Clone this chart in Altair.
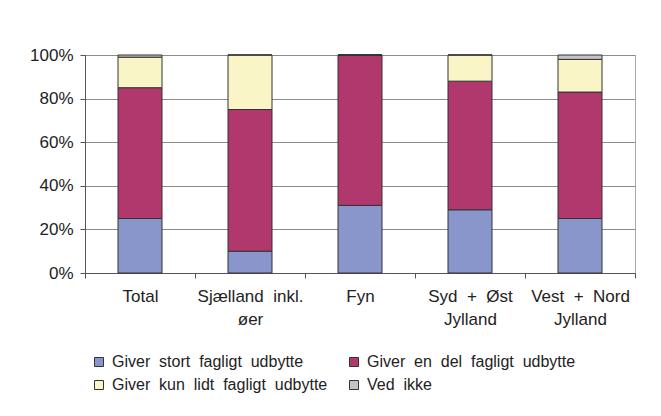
import altair as alt
import pandas as pd

S = " \u00a0"  # wide word spacing as in the reference
regions = ["Total", f"Sjælland{S}inkl.|øer", "Fyn", f"Syd{S}+{S}Øst|Jylland", f"Vest{S}+{S}Nord|Jylland"]
series = [f"Giver{S}stort{S}fagligt{S}udbytte", f"Giver{S}en{S}del{S}fagligt{S}udbytte",
          f"Giver{S}kun{S}lidt{S}fagligt{S}udbytte", f"Ved{S}ikke"]
stort = [25, 10, 31, 29, 25]
en_del = [60, 65, 69, 59, 58]
kun_lidt = [14, 25, 0, 12, 15]
ved_ikke = [1, 0, 0, 0, 2]
colors = ["#8896cc", "#b0386c", "#faf5c6", "#c4c4c4"]

rows = []
for vals, (i, s) in zip([stort, en_del, kun_lidt, ved_ikke], enumerate(series)):
    for r, v in zip(regions, vals):
        rows.append({"region": r, "serie": s, "idx": i, "value": v})
df = pd.DataFrame(rows)

# legend fills column by column: order so rows read stort/en del, kun lidt/ved ikke
legend_order = [series[0], series[2], series[1], series[3]]
legend_colors = [colors[0], colors[2], colors[1], colors[3]]

FONT = "Liberation Sans"

chart = alt.Chart(df).mark_bar(
    width={"band": 0.4}, stroke="#333333", strokeWidth=1
).encode(
    x=alt.X("region:N", sort=regions, title=None,
            scale=alt.Scale(paddingInner=0, paddingOuter=0),
            axis=alt.Axis(labelExpr="split(datum.label, '|')", labelAngle=0,
                          tickBand="extent", tickSize=5, tickColor="#555555",
                          domainColor="#555555", labelFontSize=17, labelColor="#222222",
                          labelFont=FONT, labelPadding=10, labelLineHeight=23,
                          labelBaseline="top")),
    y=alt.Y("value:Q", stack="zero", title=None,
            scale=alt.Scale(domain=[0, 100], nice=False),
            axis=alt.Axis(values=[0, 20, 40, 60, 80, 100],
                          labelExpr="datum.value + '%'", tickSize=5,
                          tickColor="#555555", domainColor="#555555",
                          gridColor="#8c8c8c", labelFontSize=17, labelColor="#222222",
                          labelFont=FONT, labelPadding=7)),
    color=alt.Color("serie:N",
                    scale=alt.Scale(domain=legend_order, range=legend_colors),
                    legend=alt.Legend(title=None, orient="none", legendX=6, legendY=299,
                                      columns=2, columnPadding=18, rowPadding=7,
                                      symbolType="square", symbolSize=81,
                                      symbolStrokeColor="#333333", symbolStrokeWidth=1,
                                      symbolOpacity=1, labelLimit=400,
                                      labelFontSize=16, labelFont=FONT,
                                      labelColor="#222222", labelOffset=5)),
    order=alt.Order("idx:Q", sort="ascending"),
).properties(
    width=550, height=218,
    autosize=alt.AutoSizeParams(type="none"),
    padding={"left": 77, "top": 47, "right": 18, "bottom": 135},
    background="white",
).configure_view(stroke="#aaaaaa")

chart.save("out.html", embed_options={"renderer": "svg", "actions": False})
